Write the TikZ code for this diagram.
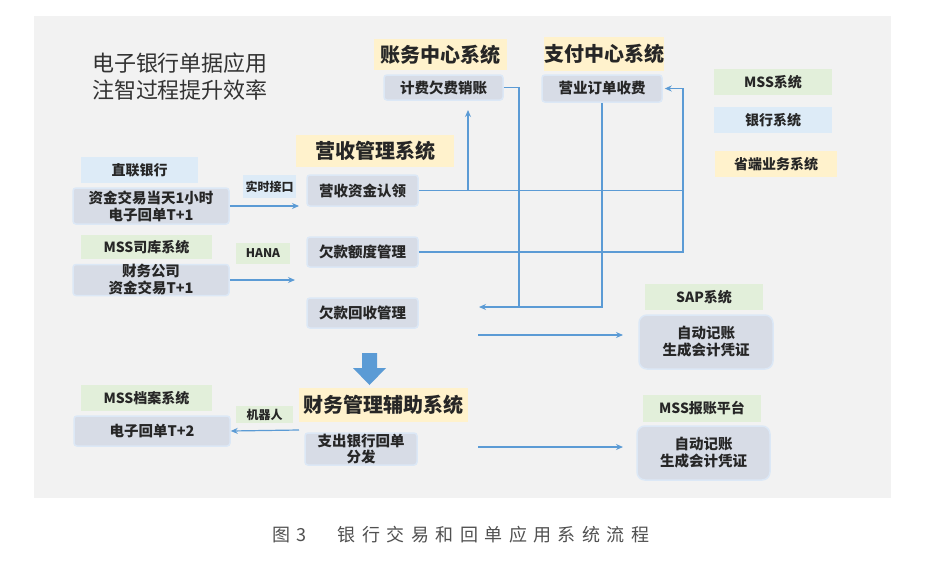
\documentclass[tikz,border=0pt]{standalone}
\usepackage{fontspec}
\setmainfont{Noto Sans CJK SC}
\newfontfamily\capfont[LetterSpace=36]{Noto Sans CJK SC}
\usetikzlibrary{arrows.meta}
\definecolor{panel}{HTML}{F2F2F2}
\definecolor{boxc}{HTML}{D7DCE6}
\definecolor{glow}{HTML}{DCE8F6}
\definecolor{yel}{HTML}{FFF2CC}
\definecolor{grn}{HTML}{E2EFDA}
\definecolor{blu}{HTML}{DDEBF7}
\definecolor{arrc}{HTML}{5B9BD5}
\definecolor{txt}{HTML}{262626}
\definecolor{ttl}{HTML}{333333}
\definecolor{capc}{HTML}{505050}
\tikzset{
  base/.style={inner sep=0pt, align=center, text=txt, anchor=center},
  box/.style={base, fill=boxc, draw=glow, line width=1.5pt, rounded corners=3pt,
    font=\bfseries\fontsize{14.5}{17}\selectfont},
  bigbox/.style={box, rounded corners=8pt},
  ylab/.style={base, fill=yel, font=\bfseries\fontsize{20}{24}\selectfont},
  glab/.style={base, fill=grn, font=\bfseries\fontsize{14}{17}\selectfont},
  blab/.style={base, fill=blu, font=\bfseries\fontsize{14}{17}\selectfont},
  slab/.style={base, font=\bfseries\fontsize{12}{14}\selectfont},
  conn/.style={draw=arrc, line width=1.2pt},
  arr/.style={conn, -{Stealth[length=7pt,width=6pt]}},
}
\begin{document}
\begin{tikzpicture}[x=1pt,y=-1pt]
\useasboundingbox (0,0) rectangle (930,576);
\fill[white] (0,0) rectangle (930,576);
\fill[panel] (34,16) rectangle (891,498);

% title
\node[base, text=ttl, font=\fontsize{22}{27}\selectfont] (title) at (180,77) {电子银行单据应用\\注智过程提升效率};

% top systems
\node[ylab, minimum width=133pt, minimum height=31pt] (zw) at (440.5,54.5) {账务中心系统};
\node[box, minimum width=119pt, minimum height=25pt] (jf) at (443.5,87.5) {计费欠费销账};
\node[ylab, minimum width=118pt, minimum height=34pt] (zf) at (604,54) {支付中心系统};
\node[box, minimum width=120pt, minimum height=27pt] (yd) at (602,88.5) {营业订单收费};

% legend
\node[glab, minimum width=118pt, minimum height=26pt] (lg1) at (773,82) {MSS系统};
\node[blab, minimum width=118pt, minimum height=26pt] (lg2) at (773,120) {银行系统};
\node[ylab, font=\bfseries\fontsize{14}{17}\selectfont, minimum width=122pt, minimum height=26pt] (lg3) at (776,164) {省端业务系统};

% revenue management
\node[ylab, minimum width=158pt, minimum height=32pt] (ys) at (375,151) {营收管理系统};
\node[box, minimum width=111pt, minimum height=31pt] (rz) at (362.5,190.5) {营收资金认领};
\node[box, minimum width=111pt, minimum height=30pt] (qe) at (362.5,252) {欠款额度管理};
\node[box, minimum width=111pt, minimum height=30pt] (qh) at (362.5,313) {欠款回收管理};

% left sources
\node[blab, minimum width=117pt, minimum height=26pt] (zl) at (139.5,170) {直联银行};
\node[box, minimum width=156pt, minimum height=36pt] (zj) at (151,206) {资金交易当天1小时\\电子回单T+1};
\node[glab, minimum width=131pt, minimum height=24pt] (mk) at (146.5,247) {MSS司库系统};
\node[box, minimum width=156pt, minimum height=31pt] (cw) at (151,280) {财务公司\\资金交易T+1};
\node[slab, fill=blu, minimum width=53pt, minimum height=23pt] (ss) at (269.5,186.5) {实时接口};
\node[slab, fill=grn, minimum width=54pt, minimum height=21pt] (hana) at (263,253.5) {HANA};

% SAP & MSS reimbursement
\node[glab, minimum width=118pt, minimum height=26pt] (sap) at (704,297) {SAP系统};
\node[bigbox, minimum width=134pt, minimum height=54pt] (ad1) at (706,342) {自动记账\\生成会计凭证};
\node[glab, minimum width=118pt, minimum height=27pt] (mbz) at (702,408.5) {MSS报账平台};
\node[bigbox, minimum width=133pt, minimum height=54pt] (ad2) at (703.5,453) {自动记账\\生成会计凭证};

% financial management assist
\node[ylab, minimum width=169pt, minimum height=34pt] (cwfz) at (383.5,405) {财务管理辅助系统};
\node[box, font=\bfseries\fontsize{14.5}{16}\selectfont, minimum width=112pt, minimum height=32pt] (zc) at (361,449) {支出银行回单\\分发};
\node[glab, minimum width=131pt, minimum height=26pt] (mda) at (146.5,398) {MSS档案系统};
\node[box, minimum width=156pt, minimum height=30pt] (dz) at (152,431) {电子回单T+2};
\node[slab, fill=grn, minimum width=57pt, minimum height=17pt] (jqr) at (264.5,414.5) {机器人};

% caption
\node[anchor=west, inner sep=0pt, text=capc, font=\capfont\fontsize{18}{20}\selectfont] (cap) at (272,535) {图3\hspace{31pt}银行交易和回单应用系统流程};

% coordinates for free ends
\coordinate (a1e) at (299,206);
\coordinate (a2e) at (295,280);
\coordinate (a3s) at (299,430);
\coordinate (j1) at (468,190.5);
\coordinate (j1e) at (468,110);
\coordinate (j2) at (683,252);
\coordinate (j3) at (519,307);
\coordinate (q3e) at (479,307);
\coordinate (a4s) at (478,335);
\coordinate (a4e) at (623,335);
\coordinate (a5s) at (478,447);
\coordinate (a5e) at (623,447);

% connectors
\draw[arr] (zj.east) -- (a1e);
\draw[arr] (cw.east) -- (a2e);
\draw[arr] (a3s) -- (dz.east);
\draw[conn] (rz.east) -- (j2 |- rz.east);
\draw[arr] (j1) -- (j1e);
\draw[arr, shorten >=2pt] (qe.east) -- (j2) |- (yd.east);
\draw[arr] (jf.east) -| (j3) -- (q3e);
\draw[conn] (yd.south) |- (j3);
\draw[arr] (a4s) -- (a4e);
\draw[arr] (a5s) -- (a5e);

% big down arrow
\fill[arrc] (362,353) -- (377,353) -- (377,368) -- (386,368) -- (369.5,385) -- (353,368) -- (362,368) -- cycle;
\end{tikzpicture}
\end{document}
